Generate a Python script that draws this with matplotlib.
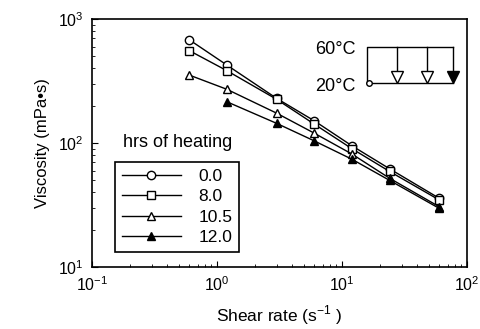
import matplotlib
matplotlib.use('agg')
import matplotlib.pyplot as plt

plt.rcParams['font.family'] = ['Liberation Sans', 'DejaVu Sans']
plt.rcParams['mathtext.fontset'] = 'custom'
plt.rcParams['mathtext.rm'] = 'Liberation Sans'

shear = [0.6, 1.2, 3.0, 6.0, 12.0, 24.0, 60.0]
visc_00 = [680, 425, 229, 151, 95, 62, 35.8]
visc_80 = [556, 383, 225, 142, 90, 59, 34.7]
visc_105 = [353, 271, 174, 120, 81.5, 52, 30.6]
visc_120 = [215, 144, 104, 74, 50, 29.7]
hours = ['0.0', '8.0', '10.5', '12.0']

fig = plt.figure(figsize=(4.81, 3.29), dpi=100)
ax = fig.add_axes([92/481, 1 - 267/329, 375/481, 248/329])

ax.plot(shear, visc_00, 'k-', marker='o', mfc='white', ms=6, lw=1, label=hours[0])
ax.plot(shear, visc_80, 'k-', marker='s', mfc='white', ms=6, lw=1, label=hours[1])
ax.plot(shear, visc_105, 'k-', marker='^', mfc='white', ms=6, lw=1, label=hours[2])
ax.plot(shear[1:], visc_120, 'k-', marker='^', mfc='black', ms=6, lw=1, label=hours[3])

ax.set_xscale('log')
ax.set_yscale('log')
ax.set_xlim(0.1, 100)
ax.set_ylim(10, 1000)
ax.tick_params(which='both', direction='in', labelsize=11.5)
ax.tick_params(which='major', length=4, pad=6)
ax.tick_params(which='minor', length=2)
ax.set_xlabel('Shear rate (s$^{-1}$ )', fontsize=12.5, labelpad=7)
ax.set_ylabel('Viscosity (mPa\u2022s)', fontsize=12, labelpad=6)
for s in ax.spines.values():
    s.set_linewidth(1.2)

leg = ax.legend(loc='lower left', bbox_to_anchor=(0.061, 0.06), borderaxespad=0,
                fontsize=12.5, handlelength=3.4, fancybox=False, edgecolor='black',
                framealpha=1, borderpad=0.4, labelspacing=0.3, handletextpad=1.0)
leg.get_frame().set_linewidth(1.2)
ax.text(0.083, 0.504, 'hrs of heating', transform=ax.transAxes, fontsize=13, va='center')

# heating profile inset
ins = fig.add_axes([367/481, 1 - 83/329, 86/481, 36/329])
ins.set_xlim(0, 1)
ins.set_ylim(0, 1)
ins.axis('off')
ins.plot([0, 0, 1], [0, 1, 1], 'k-', lw=1, clip_on=False)
ins.plot([0, 1], [0, 0], 'k-', lw=1, clip_on=False)
ins.plot([0.02], [0], 'o', mfc='white', mec='black', ms=4, clip_on=False)
for xa, fc in [(0.35, 'white'), (0.70, 'white'), (1.0, 'black')]:
    ins.plot([xa, xa], [1, 0.25], 'k-', lw=1, clip_on=False)
    ins.plot([xa], [0.18], 'v', mfc=fc, mec='black', ms=8, clip_on=False)
ax.text(0.595, 0.875, '60\u00b0C', transform=ax.transAxes, fontsize=13, va='center')
ax.text(0.595, 0.726, '20\u00b0C', transform=ax.transAxes, fontsize=13, va='center')

fig.savefig('out.png', dpi=100)
